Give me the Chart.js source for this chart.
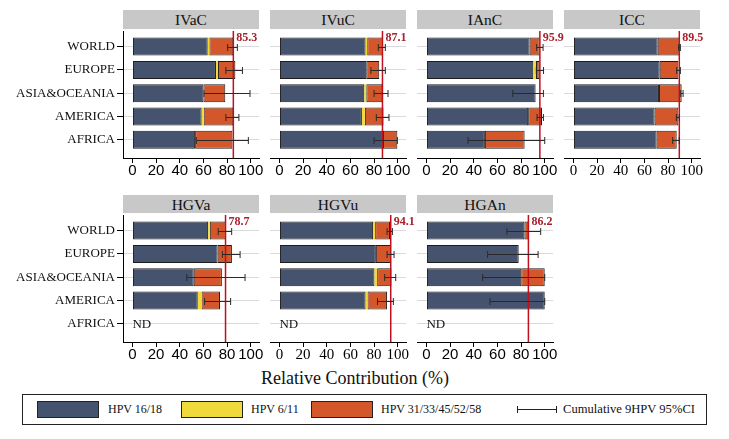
<!DOCTYPE html>
<html><head><meta charset="utf-8">
<script src="https://cdn.jsdelivr.net/npm/chart.js@4.4.0/dist/chart.umd.min.js"></script>
<style>
body{margin:0;background:#fff;}
#wrap{position:relative;width:729px;height:439px;overflow:hidden;font-family:"Liberation Serif","Times New Roman",serif;color:#111;}
canvas{position:absolute;}
.hdr{position:absolute;background:#c8c8c8;color:#111;font-size:15.5px;text-align:center;height:19px;line-height:20px;}
#xtitle{position:absolute;left:0;width:710px;top:368px;text-align:center;font-size:18px;}
#legend{position:absolute;left:22px;top:394px;width:685px;height:31px;border:1px solid #222;box-sizing:border-box;}
.sw{position:absolute;top:6px;width:62px;height:17px;border:1px solid #222;box-sizing:border-box;}
.lt{position:absolute;top:6px;height:17px;line-height:17px;font-size:12px;white-space:nowrap;}
</style></head>
<body>
<div id="wrap">
  <div id="xtitle">Relative Contribution (%)</div>
  <div id="legend">
    <div class="sw" style="left:14px;background:#45536e"></div>
    <div class="lt" style="left:85px">HPV 16/18</div>
    <div class="sw" style="left:158px;background:#f0d93a"></div>
    <div class="lt" style="left:228px">HPV 6/11</div>
    <div class="sw" style="left:288px;background:#d4572b"></div>
    <div class="lt" style="left:358px">HPV 31/33/45/52/58</div>
    <div style="position:absolute;left:494px;top:14px;width:40px;height:1px;background:#222"></div>
    <div style="position:absolute;left:494px;top:11px;width:1px;height:7px;background:#222"></div>
    <div style="position:absolute;left:533px;top:11px;width:1px;height:7px;background:#222"></div>
    <div class="lt" style="left:540px;font-size:12.6px">Cumulative 9HPV 95%CI</div>
  </div>
</div>
<script>
const regions = ["WORLD","EUROPE","ASIA&OCEANIA","AMERICA","AFRICA"];
const panels = ["IVaC","IVuC","IAnC","ICC","HGVa","HGVu","HGAn"];
const xTicks = [0,20,40,60,80,100];
const cumulative = [85.3,87.1,95.9,89.5,78.7,94.1,86.2];
const hpv1618 = [
  [63.6,70.6,60.0,58.5,53.0],
  [72.8,73.4,71.7,69.7,87.5],
  [87.2,90.3,92.3,86.0,49.4],
  [71.2,72.9,72.3,68.6,70.3],
  [64.0,72.0,51.8,55.2,null],
  [79.2,81.5,80.3,72.8,null],
  [82.8,78.0,80.2,100,null]
];
const hpv611 = [
  [1.4,1.7,0,1.7,0],
  [1.4,0,1.7,2.5,0],
  [0,2.3,0,0,0],
  [0,0,0,0,0],
  [1.4,0,0,3.2,null],
  [1.7,0,2.3,1.6,null],
  [0,0,0,0,null]
];
const hpvOther = [
  [20.3,14.7,18.5,25.1,31.5],
  [13.0,11.0,13.6,15.8,12.2],
  [8.5,3.1,0,11.7,33.6],
  [18.6,15.8,19.2,20.1,17.0],
  [13.6,12.1,23.8,15.6,null],
  [12.6,12.9,12.1,16.6,null],
  [3.4,0,19.8,0,null]
];
const ciLow = [
  [80.5,79.0,60.5,79.0,54.0],
  [83.6,77.3,80.0,81.9,80.0],
  [93.2,92.9,73.0,93.5,35.2],
  [89.0,87.3,90.7,87.0,83.9],
  [72.5,76.0,45.9,61.0,null],
  [91.0,91.0,89.0,82.9,null],
  [68.0,51.7,47.5,53.7,null]
];
const ciHigh = [
  [88.7,93.0,99.4,90.0,98.0],
  [89.5,89.5,91.8,92.6,99.7],
  [98.6,99.0,98.9,98.9,100],
  [90.4,90.4,92.7,89.5,89.5],
  [83.9,91.0,95.2,83.0,null],
  [95.5,96.9,98.3,96.3,null],
  [96.6,94.4,100,100,null]
];

const colLeft = [123,270,417,564];
const rowTop = [31,215];
const hdrTop = [10,195];
const tickFonts = ["Liberation Sans","Liberation Sans","Liberation Sans","Liberation Serif","Liberation Sans","Liberation Serif","Liberation Sans"];
const W = 136, H = 127, XH = 25, PADR = 16;

const overlay = {
  id:'overlay',
  afterDatasetsDraw(chart, args, opts){
    const p = opts.panel;
    const {ctx, chartArea:a, scales:{x,y}} = chart;
    ctx.save();
    const xr = x.getPixelForValue(cumulative[p]);
    ctx.strokeStyle = '#c0101c'; ctx.lineWidth = 1.5;
    ctx.beginPath(); ctx.moveTo(xr, a.top); ctx.lineTo(xr, a.bottom); ctx.stroke();
    ctx.fillStyle = '#a8202c';
    ctx.font = 'bold 12px "Liberation Serif"';
    ctx.textAlign = 'left'; ctx.textBaseline = 'middle';
    ctx.fillText(cumulative[p].toFixed(1), xr + 3, a.top + 7);
    ctx.strokeStyle = '#2a2a2a'; ctx.lineWidth = 1;
    for (let i = 0; i < regions.length; i++) {
      const yc = Math.round(y.getPixelForValue(i)) + 0.5;
      if (hpv1618[p][i] === null) {
        ctx.fillStyle = '#111';
        ctx.font = '13px "Liberation Serif"';
        ctx.fillText('ND', x.getPixelForValue(0), yc);
        continue;
      }
      const x1 = x.getPixelForValue(ciLow[p][i]), x2 = x.getPixelForValue(ciHigh[p][i]);
      ctx.beginPath();
      ctx.moveTo(x1, yc); ctx.lineTo(x2, yc);
      ctx.moveTo(x1, yc - 3.5); ctx.lineTo(x1, yc + 3.5);
      ctx.moveTo(x2, yc - 3.5); ctx.lineTo(x2, yc + 3.5);
      ctx.stroke();
    }
    ctx.restore();
  }
};

function series(arr){
  const out = [];
  arr.forEach((v,i)=>{ if (v !== null && v > 0) out.push({x:v, y:i}); });
  return out;
}

const wrap = document.getElementById('wrap');
panels.forEach((name, p) => {
  const row = p < 4 ? 0 : 1;
  const col = p < 4 ? p : p - 4;
  const first = col === 0;
  const left = colLeft[col];
  const hd = document.createElement('div');
  hd.className = 'hdr';
  hd.style.left = left + 'px'; hd.style.top = hdrTop[row] + 'px'; hd.style.width = W + 'px';
  hd.style.height = (row === 0 ? 19 : 18) + 'px';
  hd.textContent = name;
  wrap.appendChild(hd);

  const cv = document.createElement('canvas');
  const yw = first ? left : 0;
  const cx = first ? 0 : left;
  const cw = yw + W + PADR, ch = H + XH;
  cv.width = cw; cv.height = ch;
  cv.style.left = cx + 'px'; cv.style.top = rowTop[row] + 'px';
  cv.style.width = cw + 'px'; cv.style.height = ch + 'px';
  wrap.appendChild(cv);

  const common = {borderColor:'#1c1c1c', borderWidth:1, borderSkipped:false, barThickness:18, inflateAmount:0};
  new Chart(cv, {
    type:'bar',
    data:{datasets:[
      Object.assign({label:'HPV 16/18', data:series(hpv1618[p]), backgroundColor:'#45536e'}, common),
      Object.assign({label:'HPV 6/11', data:series(hpv611[p]), backgroundColor:'#f0d93a'}, common, {borderWidth:0}),
      Object.assign({label:'HPV 31/33/45/52/58', data:series(hpvOther[p]), backgroundColor:'#d4572b'}, common)
    ]},
    options:{
      responsive:false, animation:false, devicePixelRatio:1, indexAxis:'y',
      layout:{autoPadding:false, padding:{left:0,right:PADR,top:0,bottom:0}},
      plugins:{legend:{display:false}, tooltip:{enabled:false}, title:{display:false}, overlay:{panel:p}},
      scales:{
        x:{type:'linear', stacked:true, min:-8, max:107, offset:false,
           afterBuildTicks:s=>{ s.ticks = xTicks.map(v=>({value:v})); },
           afterFit:s=>{ s.height = XH; s.paddingLeft = 0; s.paddingRight = 0; },
           grid:{drawOnChartArea:false, drawTicks:true, tickLength:5, tickColor:'#000', tickWidth:1, offset:false},
           border:{display:true, color:'#000', width:1},
           ticks:{font:{family:tickFonts[p], size:15}, color:'#000', padding:-1, maxRotation:0, autoSkip:false}},
        y:{type:'linear', stacked:true, reverse:true, min:-0.67, max:4.78, offset:false,
           afterBuildTicks:s=>{ s.ticks = [0,1,2,3,4].map(v=>({value:v})); },
           afterFit:s=>{ s.width = yw; s.paddingTop = 0; s.paddingBottom = 0; },
           grid:{color:'#dadada', drawTicks:first, tickLength:6, tickColor:'#000', offset:false},
           border:{display:first, color:'#000', width:1},
           ticks:{display:first, font:{family:'Liberation Serif', size:13}, color:'#111', padding:2,
                  callback:v=>regions[v]}}
      }
    },
    plugins:[overlay]
  });
});
</script>
</body></html>
